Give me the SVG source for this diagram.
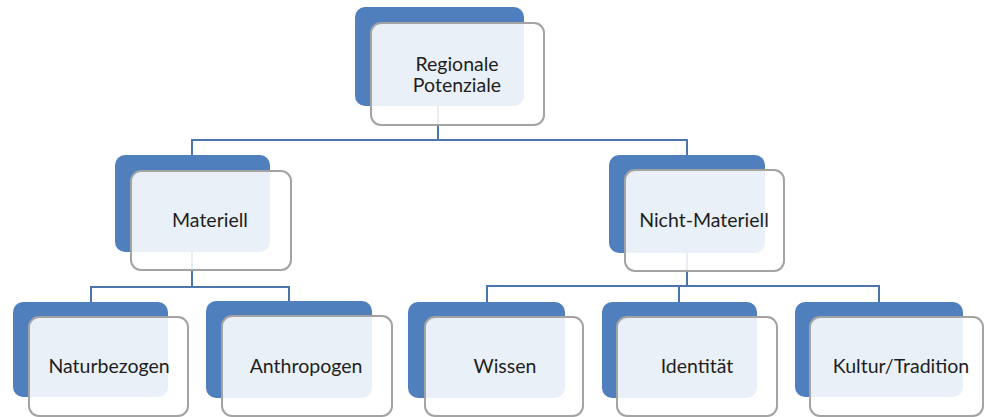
<svg xmlns="http://www.w3.org/2000/svg" width="985" height="417" viewBox="0 0 985 417">
  <style>
    .back { fill: #4f80bd; }
    .front { fill: #ffffff; fill-opacity: 0.88; stroke: #a3a3a3; stroke-width: 2; }
    .label { font-family: Lato, Carlito, "Liberation Sans", sans-serif; font-size: 19.5px; fill: #1e1e1e; text-anchor: middle; }
    .wire { fill: none; stroke: #4a74aa; stroke-width: 2; }
  </style>
  <rect width="985" height="417" fill="#ffffff"/>

  <!-- tree connectors, drawn beneath the nodes -->
  <g id="connectors">
    <path class="wire" d="M438 106 V140 M192 155 V140 H687 V155"/>
    <path class="wire" d="M192 252 V287 M91 302 V287 H289 V301"/>
    <path class="wire" d="M687 253 V286 M487 302 V286 H879 V302 M679 286 V302"/>
  </g>

  <g id="node-regionale-potenziale">
    <rect class="back" x="355" y="7" width="169" height="99" rx="10"/>
    <rect class="front" x="371" y="23" width="173" height="102" rx="10"/>
    <text class="label" x="457" y="71">Regionale</text>
    <text class="label" x="457" y="92">Potenziale</text>
  </g>

  <g id="node-materiell">
    <rect class="back" x="115" y="155" width="155" height="97" rx="10"/>
    <rect class="front" x="131" y="171" width="160" height="99" rx="10"/>
    <text class="label" x="210" y="227">Materiell</text>
  </g>

  <g id="node-nicht-materiell">
    <rect class="back" x="609" y="155" width="156" height="98" rx="10"/>
    <rect class="front" x="625" y="170" width="159" height="101" rx="10"/>
    <text class="label" x="704" y="227">Nicht-Materiell</text>
  </g>

  <g id="node-naturbezogen">
    <rect class="back" x="13" y="302" width="155" height="95" rx="10"/>
    <rect class="front" x="29" y="317" width="159" height="99" rx="10"/>
    <text class="label" x="109" y="373">Naturbezogen</text>
  </g>

  <g id="node-anthropogen">
    <rect class="back" x="206" y="301" width="166" height="97" rx="10"/>
    <rect class="front" x="222" y="316" width="170" height="100" rx="10"/>
    <text class="label" x="306" y="373">Anthropogen</text>
  </g>

  <g id="node-wissen">
    <rect class="back" x="408" y="302" width="157" height="96" rx="10"/>
    <rect class="front" x="425" y="317" width="158" height="99" rx="10"/>
    <text class="label" x="505" y="373">Wissen</text>
  </g>

  <g id="node-identitaet">
    <rect class="back" x="602" y="302" width="155" height="96" rx="10"/>
    <rect class="front" x="617" y="317" width="160" height="99" rx="10"/>
    <text class="label" x="697" y="373">Identität</text>
  </g>

  <g id="node-kultur-tradition">
    <rect class="back" x="795" y="302" width="168" height="95" rx="10"/>
    <rect class="front" x="810" y="317" width="173" height="99" rx="10"/>
    <text class="label" x="901" y="373">Kultur/Tradition</text>
  </g>
</svg>
